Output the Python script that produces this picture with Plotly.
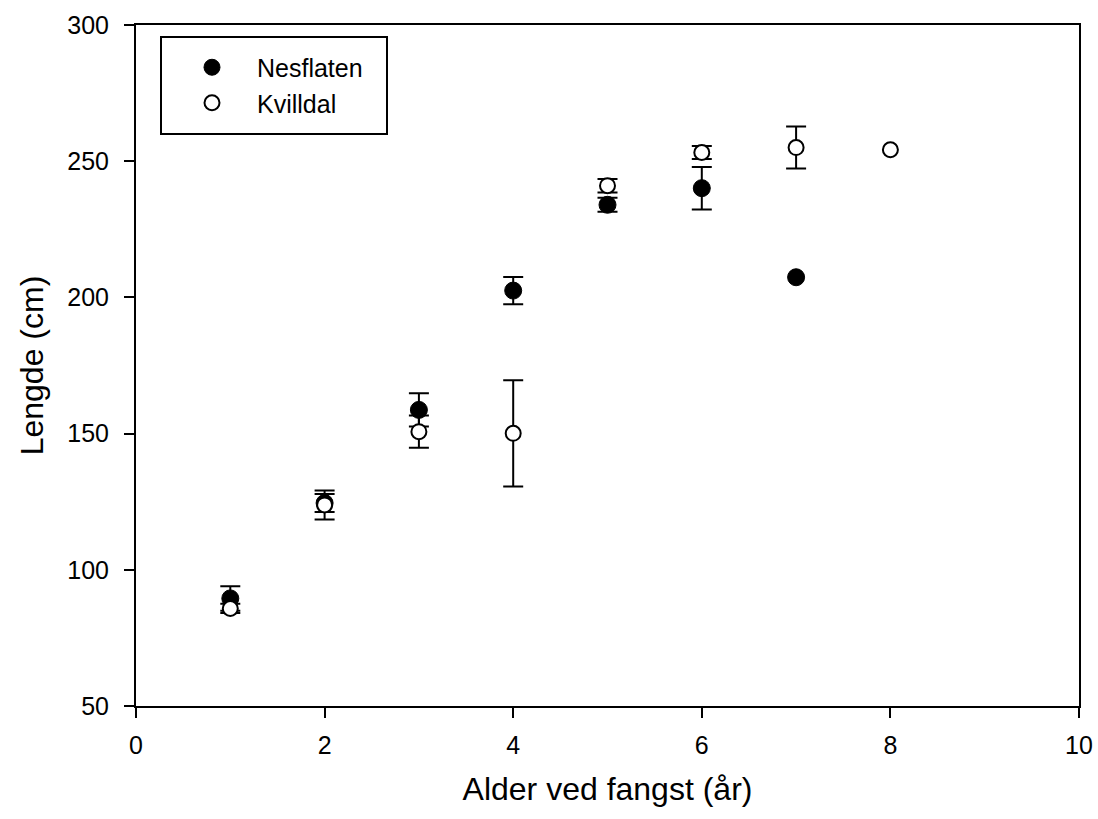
import plotly.graph_objects as go

age_nesflaten = [1, 2, 3, 4, 5, 6, 7]
len_nesflaten = [89.5, 124.5, 158.7, 202.5, 234.0, 240.1, 207.4]
err_nesflaten = [4.5, 3.3, 6.1, 5.0, 2.6, 7.8, None]

age_kvilldal = [1, 2, 3, 4, 5, 6, 7, 8]
len_kvilldal = [85.8, 123.8, 150.7, 150.1, 241.0, 253.2, 255.0, 254.2]
err_kvilldal = [1.7, 5.3, 5.9, 19.5, 2.5, 2.4, 7.7, None]

x_ticks = [0, 2, 4, 6, 8, 10]
y_ticks = [50, 100, 150, 200, 250, 300]

FONT = "Liberation Sans, Arial, sans-serif"

def split(xs, ys, es):
    with_err = [(x, y, e) for x, y, e in zip(xs, ys, es) if e is not None]
    no_err = [(x, y) for x, y, e in zip(xs, ys, es) if e is None]
    return with_err, no_err

filled = dict(symbol="circle", size=17, color="black", line=dict(color="black", width=1))
hollow = dict(symbol="circle", size=15, color="white", line=dict(color="black", width=2))
errstyle = dict(type="data", visible=True, color="black", thickness=2, width=10)

fig = go.Figure()
for name, xs, ys, es, mk in [("Nesflaten", age_nesflaten, len_nesflaten, err_nesflaten, filled),
                              ("Kvilldal", age_kvilldal, len_kvilldal, err_kvilldal, hollow)]:
    we, ne = split(xs, ys, es)
    fig.add_trace(go.Scatter(
        x=[p[0] for p in we], y=[p[1] for p in we], mode="markers", name=name,
        legendgroup=name, marker=mk,
        error_y=dict(array=[p[2] for p in we], **errstyle),
    ))
    fig.add_trace(go.Scatter(
        x=[p[0] for p in ne], y=[p[1] for p in ne], mode="markers", name=name,
        legendgroup=name, showlegend=False, marker=mk,
    ))

fig.add_shape(type="rect", xref="paper", yref="paper",
              x0=(161 - 136) / 943, x1=(387 - 136) / 943,
              y0=(706 - 134) / 681, y1=(706 - 37) / 681,
              line=dict(color="black", width=2), fillcolor="rgba(0,0,0,0)", layer="below")

fig.update_layout(
    width=1098, height=819,
    margin=dict(l=136, r=19, t=25, b=113),
    paper_bgcolor="white", plot_bgcolor="white",
    font=dict(family=FONT, color="black", size=25),
    showlegend=True,
    legend=dict(x=(167 - 136) / 943, y=(706 - 85) / 681, xanchor="left", yanchor="middle",
                bgcolor="rgba(0,0,0,0)", borderwidth=0, font=dict(size=25, family=FONT),
                tracegroupgap=0, itemsizing="trace", itemwidth=80),
    xaxis=dict(range=[0, 10], tickvals=x_ticks, ticks="outside", ticklen=10, tickwidth=2,
               tickcolor="black", showline=True, linecolor="black", linewidth=2, mirror=True,
               showgrid=False, zeroline=False, tickfont=dict(size=25, family=FONT),
               ticklabelstandoff=6, automargin=False,
               title=dict(text="Alder ved fangst (år)", font=dict(size=32, family=FONT), standoff=20)),
    yaxis=dict(range=[50, 300], tickvals=y_ticks, ticks="outside", ticklen=10, tickwidth=2,
               tickcolor="black", showline=True, linecolor="black", linewidth=2, mirror=True,
               showgrid=False, zeroline=False, tickfont=dict(size=25, family=FONT),
               ticklabelstandoff=10, automargin=False,
               title=dict(text="Lengde (cm)", font=dict(size=32, family=FONT), standoff=14)),
)

fig.write_html("out.html")
